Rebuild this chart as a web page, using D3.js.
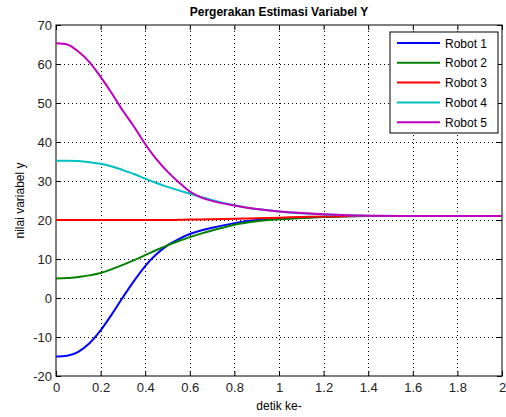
<!DOCTYPE html>
<html>
<head>
<meta charset="utf-8">
<script src="https://cdn.jsdelivr.net/npm/d3@7"></script>
<style>
  body { margin: 0; background: #fff; }
  svg { font-family: "Liberation Sans", Arial, sans-serif; }
  .grid line { stroke: #000; stroke-width: 1; stroke-dasharray: 1,3; shape-rendering: crispEdges; }
  .tick text { fill: #222; }
</style>
</head>
<body>
<div id="chart"></div>
<script>
var width = 506, height = 417;
var margin = {top: 25, right: 4, bottom: 41, left: 56};

// waktu (detik)
var times = [0, 0.05, 0.1, 0.15, 0.2, 0.25, 0.3, 0.35, 0.4, 0.45, 0.5, 0.55, 0.6, 0.65, 0.7, 0.8, 0.9, 1.0, 1.1, 1.2, 1.4, 1.6, 1.8, 2.0];

var robot1 = [-15, -14.8, -13.8, -11.6, -8.3, -4.2, 0.2, 4.4, 8.2, 11.2, 13.5, 15.1, 16.4, 17.3, 18, 19.2, 20, 20.4, 20.6, 20.8, 21, 21, 21, 21];
var robot2 = [5, 5.1, 5.4, 5.8, 6.4, 7.4, 8.5, 9.7, 11, 12.3, 13.5, 14.6, 15.6, 16.5, 17.3, 18.8, 19.7, 20.2, 20.5, 20.8, 21, 21, 21, 21];
var robot3 = [20, 20, 20, 20, 20, 20, 20, 20, 20, 20, 20, 20.05, 20.1, 20.15, 20.2, 20.3, 20.45, 20.6, 20.75, 20.9, 21, 21, 21, 21];
var robot4 = [35.2, 35.2, 35.1, 34.8, 34.4, 33.7, 32.8, 31.8, 30.6, 29.5, 28.5, 27.6, 26.8, 25.9, 25.1, 23.8, 22.8, 22.2, 21.7, 21.4, 21.1, 21, 21, 21];
var robot5 = [65.3, 65, 63.2, 60.5, 56.7, 52.5, 48, 43.9, 39.5, 35.6, 32.4, 29.7, 27.3, 25.8, 24.9, 23.7, 22.8, 22.2, 21.8, 21.5, 21.1, 21, 21, 21];

var seriesNames = ["Robot 1", "Robot 2", "Robot 3", "Robot 4", "Robot 5"];
var seriesColors = ["#0000ff", "#008000", "#ff0000", "#00bfbf", "#bf00bf"];
var seriesValues = [robot1, robot2, robot3, robot4, robot5];

var xTicks = [0, 0.2, 0.4, 0.6, 0.8, 1, 1.2, 1.4, 1.6, 1.8, 2];
var yTicks = [-20, -10, 0, 10, 20, 30, 40, 50, 60, 70];

var svg = d3.select('#chart').append('svg')
    .attr('width', width)
    .attr('height', height);

var x = d3.scaleLinear()
    .domain([0, 2])
    .range([margin.left, width - margin.right]);

var y = d3.scaleLinear()
    .domain([-20, 70])
    .range([height - margin.bottom, margin.top]);

// grid
var grid = svg.append('g').attr('class', 'grid');
grid.selectAll('line.gx')
    .data(xTicks.slice(1, -1))
  .enter().append('line')
    .attr('x1', function(d) { return Math.round(x(d)) + 0.5; })
    .attr('x2', function(d) { return Math.round(x(d)) + 0.5; })
    .attr('y1', y(-20))
    .attr('y2', y(70));
grid.selectAll('line.gy')
    .data(yTicks.slice(1, -1))
  .enter().append('line')
    .attr('y1', function(d) { return Math.round(y(d)) + 0.5; })
    .attr('y2', function(d) { return Math.round(y(d)) + 0.5; })
    .attr('x1', x(0))
    .attr('x2', x(2));

// axes (box with ticks inside)
var fmt = function(d) { return String(d); };
var tickFont = function(g) { g.selectAll('text').attr('font-size', 13).attr('font-family', '"Liberation Sans", Arial, sans-serif'); };
svg.append('g')
    .attr('transform', 'translate(0,' + y(-20) + ')')
    .call(d3.axisBottom(x).tickValues(xTicks).tickFormat(fmt).tickSizeInner(-5).tickSizeOuter(0).tickPadding(7))
    .call(tickFont);
svg.append('g')
    .attr('transform', 'translate(0,' + y(70) + ')')
    .call(d3.axisTop(x).tickValues(xTicks).tickFormat('').tickSizeInner(-5).tickSizeOuter(0));
svg.append('g')
    .attr('transform', 'translate(' + x(0) + ',0)')
    .call(d3.axisLeft(y).tickValues(yTicks).tickFormat(fmt).tickSizeInner(-5).tickSizeOuter(0).tickPadding(4))
    .call(tickFont);
svg.append('g')
    .attr('transform', 'translate(' + x(2) + ',0)')
    .call(d3.axisRight(y).tickValues(yTicks).tickFormat('').tickSizeInner(-5).tickSizeOuter(0));

svg.selectAll('.domain').remove();
svg.append('rect')
    .attr('x', x(0))
    .attr('y', y(70))
    .attr('width', x(2) - x(0))
    .attr('height', y(-20) - y(70))
    .attr('fill', 'none')
    .attr('stroke', '#000')
    .attr('stroke-width', 1);

// lines
var line = d3.line()
    .x(function(d) { return x(d[0]); })
    .y(function(d) { return y(d[1]); })
    .curve(d3.curveMonotoneX);

svg.selectAll('path.robot')
    .data(seriesValues)
  .enter().append('path')
    .attr('class', 'robot')
    .attr('fill', 'none')
    .attr('stroke', function(d, i) { return seriesColors[i]; })
    .attr('stroke-width', 2)
    .attr('d', function(d) { return line(times.map(function(t, j) { return [t, d[j]]; })); });

// title and labels
svg.append('text')
    .attr('x', (x(0) + x(2)) / 2)
    .attr('y', 16)
    .attr('text-anchor', 'middle')
    .attr('font-size', 12)
    .attr('font-weight', 'bold')
    .text('Pergerakan Estimasi Variabel Y');

svg.append('text')
    .attr('x', (x(0) + x(2)) / 2)
    .attr('y', 410)
    .attr('text-anchor', 'middle')
    .attr('font-size', 12)
    .text('detik ke-');

svg.append('text')
    .attr('transform', 'translate(24,' + ((y(70) + y(-20)) / 2) + ') rotate(-90)')
    .attr('text-anchor', 'middle')
    .attr('font-size', 12)
    .text('nilai variabel y');

// legend
var legend = svg.append('g').attr('transform', 'translate(390,32)');
legend.append('rect')
    .attr('width', 108)
    .attr('height', 101)
    .attr('fill', '#fff')
    .attr('stroke', '#000');
var items = legend.selectAll('g.item')
    .data(seriesNames)
  .enter().append('g')
    .attr('class', 'item')
    .attr('transform', function(d, i) { return 'translate(0,' + (11 + i * 19.8) + ')'; });
items.append('line')
    .attr('x1', 7).attr('x2', 50)
    .attr('stroke', function(d, i) { return seriesColors[i]; })
    .attr('stroke-width', 2);
items.append('text')
    .attr('x', 55)
    .attr('y', 4.5)
    .attr('font-size', 12)
    .text(function(d) { return d; });
</script>
</body>
</html>
